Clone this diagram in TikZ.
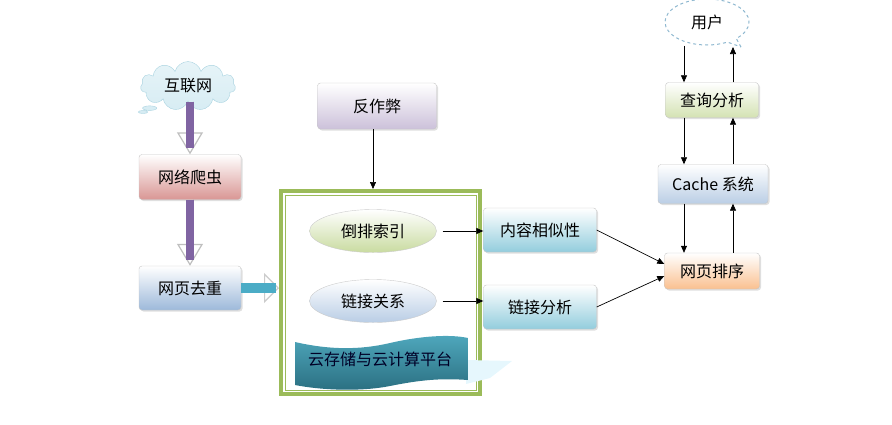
\documentclass[tikz,border=0pt]{standalone}
\usepackage{fontspec}
\setmainfont{Noto Sans CJK SC}
\usetikzlibrary{shapes.geometric,shapes.callouts,shapes.symbols,arrows.meta,shadows}
\definecolor{cloudfill}{HTML}{D6ECF3}
\definecolor{cloudedge}{HTML}{A9D3E0}
\definecolor{crawlbot}{HTML}{D99694}
\definecolor{bluebot}{HTML}{9DB9DA}
\definecolor{lilacbot}{HTML}{CCC1DA}
\definecolor{greenbot}{HTML}{C9DBA0}
\definecolor{ellblue}{HTML}{B9CDE5}
\definecolor{cyanbot}{HTML}{93CDDD}
\definecolor{peachbot}{HTML}{FAC090}
\definecolor{framegreen}{HTML}{9BBB59}
\definecolor{arrowpurple}{HTML}{8064A2}
\definecolor{arrowteal}{HTML}{4BACC6}
\definecolor{bannertop}{HTML}{4FA8BD}
\definecolor{bannerbot}{HTML}{2A6E80}
\definecolor{userdash}{HTML}{8FB8D0}
\tikzset{
  box/.style={rectangle, rounded corners=3pt, draw=gray!45, top color=white, bottom color=#1,
    drop shadow={opacity=0.25, shadow xshift=1.5pt, shadow yshift=-1.5pt}},
  oval/.style={ellipse, draw=gray!40, top color=white, bottom color=#1, minimum width=127, minimum height=43},
  arr/.style={-{Triangle[length=7pt,width=6pt]}, line width=0.7pt},
  fatshaft/.style={draw=#1, line width=8pt},
  fathead/.style={draw=#1, -{Triangle[length=22pt, width=26pt, color=gray!50, fill=white, line width=1.2pt]}, line width=8pt}
}
\begin{document}
\begin{tikzpicture}[x=1pt,y=-1pt,font=\fontsize{16}{18}\selectfont]
\useasboundingbox (0,0) rectangle (892,424);
% left column
\node[cloud callout, cloud puffs=11, aspect=2.3, minimum width=95, minimum height=38,
  draw=cloudedge, top color=cloudfill!60, bottom color=cloudfill, callout absolute pointer={(143,112)}] (net) at (188,86) {互联网};
\node[box=crawlbot, minimum width=102, minimum height=45] (crawl) at (190,177) {网络爬虫};
\node[box=bluebot, minimum width=102, minimum height=44] (dedup) at (190,288) {网页去重};
\draw[fathead=arrowpurple] (net.south -| crawl) -- (crawl.north);
\draw[fatshaft=arrowpurple] (net.south -| crawl) -- ([yshift=6pt]crawl.north);
\draw[fathead=arrowpurple] (crawl.south) -- (dedup.north);
\draw[fatshaft=arrowpurple] (crawl.south) -- ([yshift=6pt]dedup.north);
% platform frame
\node[draw=framegreen, line width=4pt, minimum width=199, minimum height=203] (frame) at (380.5,292.5) {};
\draw[framegreen, line width=1pt] ([shift={(6,6)}]frame.north west) rectangle ([shift={(-6,-6)}]frame.south east);
\fill[cyan!10] (466,360) -- (512,361) -- (490,378) -- (466,384) -- cycle;
\shade[top color=bannertop, bottom color=bannerbot]
  (295,342) .. controls (330,350) and (360,350) .. (390,343)
  .. controls (420,336) and (450,334) .. (468,338) -- (468,380)
  .. controls (440,378) and (420,380) .. (390,386)
  .. controls (360,392) and (320,390) .. (295,385) -- cycle;
\node[text=black!85!blue] (cloudtxt) at (380,359) {云存储与云计算平台};
\node[oval=greenbot] (inv) at (373,231) {倒排索引};
\node[oval=ellblue] (link) at (373,301) {链接关系};
\node[box=lilacbot, minimum width=119, minimum height=46] (anti) at (377,106) {反作弊};
\draw[arr] (anti.south -| inv) -- (frame.north -| inv);
\draw[fathead=arrowteal, line width=10pt, -{Triangle[length=15pt, width=30pt, color=gray!40, fill=white, line width=1.2pt]}] (dedup.east) -- (frame.west |- dedup.east);
\draw[fatshaft=arrowteal, line width=10pt] (dedup.east) -- (276,288);
% analysis boxes
\node[box=cyanbot, minimum width=113, minimum height=44] (sim) at (540,230) {内容相似性};
\node[box=cyanbot, minimum width=113, minimum height=44] (linkana) at (540,307) {链接分析};
\draw[arr] ([xshift=6pt]inv.east) -- (sim.west |- inv.east);
\draw[arr] ([xshift=6pt]link.east) -- (linkana.west |- link.east);
% right column
\node[box=peachbot, minimum width=95, minimum height=36] (rank) at (712,271) {网页排序};
\node[box=bluebot!70, minimum width=110, minimum height=39] (cache) at (713,184) {Cache 系统};
\node[box=greenbot!80, minimum width=93, minimum height=35] (query) at (712,100) {查询分析};
\node[ellipse callout, dashed, draw=userdash, line width=1pt, minimum width=84, minimum height=46,
  callout absolute pointer={(741,47)}] (user) at (707,22) {用户};
\draw[arr] (sim.east) -- ([yshift=7pt]rank.west);
\draw[arr] (linkana.east) -- ([yshift=-5pt]rank.west);
\coordinate (lx) at (684,0);
\coordinate (rx) at (733,0);
\draw[arr] (user.south -| lx) -- (query.north -| lx);
\draw[arr] (query.south -| lx) -- (cache.north -| lx);
\draw[arr] (cache.south -| lx) -- (rank.north -| lx);
\draw[arr] (rank.north -| rx) -- (cache.south -| rx);
\draw[arr] (cache.north -| rx) -- (query.south -| rx);
\draw[arr] (query.north -| rx) -- (733,47);
\end{tikzpicture}
\end{document}
